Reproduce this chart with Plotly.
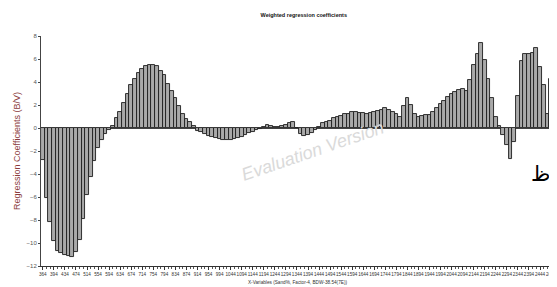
import plotly.graph_objects as go

# Tick labels (wavelength variables), evenly spaced on the category axis
tick_labels = ["364", "394", "434", "474", "514", "554", "594", "634", "674", "714",
               "754", "794", "834", "874", "914", "954", "994", "1044", "1094", "1144",
               "1194", "1244", "1294", "1344", "1394", "1444", "1494", "1544", "1594", "1644",
               "1694", "1744", "1794", "1844", "1894", "1944", "1994", "2044", "2094", "2144",
               "2194", "2244", "2294", "2344", "2394", "2444", "2494"]

# Regression coefficient per X-variable
coefficients = [
    -2.8, -6.1, -8.2, -9.8, -10.7, -10.85, -11.0, -11.1, -11.2, -10.8,
    -9.7, -7.9, -5.8, -4.3, -2.9, -1.7, -1.0, -0.5, -0.15, 0.2,
    0.85, 1.35, 2.2, 3.0, 3.7, 4.3, 4.8, 5.1, 5.35, 5.5,
    5.5, 5.4, 5.0, 4.6, 3.8, 3.2, 2.6, 1.9, 1.25, 0.8,
    0.5, 0.15, -0.25, -0.35, -0.5, -0.7, -0.8, -0.9, -0.95, -1.0,
    -1.0, -1.0, -0.95, -0.85, -0.75, -0.6, -0.45, -0.35, -0.2, -0.1,
    0.1, 0.25, 0.15, 0.1, 0.05, 0.2, 0.3, 0.45, 0.5, 0.0,
    -0.5, -0.7, -0.65, -0.45, -0.2, 0.1, 0.4, 0.5, 0.65, 0.85,
    0.95, 1.05, 1.2, 1.25, 1.35, 1.35, 1.3, 1.3, 1.25, 1.3,
    1.35, 1.5, 1.6, 1.75, 1.55, 1.4, 1.2, 1.0, 1.9, 2.6,
    2.0, 1.2, 1.0, 1.05, 1.1, 1.15, 1.4, 1.75, 2.1, 2.35,
    2.7, 2.95, 3.1, 3.3, 3.35, 3.2, 4.2, 5.5, 6.4, 7.4,
    5.9, 4.3, 2.6, 1.0, 0.2, -0.65, -1.5, -2.7, -1.2, 2.8,
    5.8, 6.4, 6.45, 6.5, 6.95, 5.3, 3.7, 1.2, 4.3,
]

bars_per_label = 3
x_idx = list(range(len(coefficients)))
tick_vals = [i * bars_per_label for i in range(len(tick_labels))]

sans = "Liberation Sans, Arial"

fig = go.Figure()
fig.add_trace(go.Bar(
    x=x_idx, y=coefficients,
    marker=dict(color="#a9a9a9", line=dict(color="#1e1e1e", width=0.9)),
    showlegend=False,
))

fig.update_layout(
    width=557, height=287,
    margin=dict(l=28, r=8, t=28, b=29),
    paper_bgcolor="white", plot_bgcolor="white",
    bargap=0,
    title=dict(text="<b>Weighted regression coefficients</b>",
               font=dict(family=sans, size=5.5, color="#111"),
               x=0.531, xanchor="center", y=0.975, yanchor="middle"),
    xaxis=dict(
        range=[-0.5, 138.8], tickmode="array", tickvals=tick_vals, ticktext=tick_labels,
        tickangle=0, tickfont=dict(family=sans, size=4.6, color="#333"),
        ticklabeloverflow="allow",
        showline=True, linecolor="#333", linewidth=1, showgrid=False, zeroline=False,
        ticks="outside", ticklen=3, tickcolor="#333",
        minor=dict(dtick=1, ticks="outside", ticklen=2, tickcolor="#555"),
        title=dict(text="X-Variables (Sand%, Factor-4, BDW-38.54(7E))",
                   font=dict(family=sans, size=4.7, color="#333"), standoff=5),
    ),
    yaxis=dict(
        range=[-12, 8], tickvals=[8, 6, 4, 2, 0, -2, -4, -6, -8, -10, -12],
        tickfont=dict(family=sans, size=6, color="#555"),
        showline=True, linecolor="#444", linewidth=1, showgrid=False,
        zeroline=True, zerolinecolor="#444", zerolinewidth=1,
        ticks="outside", ticklen=2, tickcolor="#444",
        title=dict(text="Regression Coefficients (B/V)",
                   font=dict(family=sans, size=9, color="#8b3a3a"),
                   standoff=4),
    ),
)

fig.add_annotation(text="Evaluation Version", xref="paper", yref="paper",
                   x=0.53, y=0.50, showarrow=False, textangle=-19,
                   font=dict(family=sans, size=18, color="#dadada", style="italic"))
fig.add_annotation(text="ظ", xref="paper", yref="paper",
                   x=0.997, y=0.40, showarrow=False,
                   font=dict(family="DejaVu Sans, Noto Sans", size=21, color="#000"))

fig.write_html("out.html")
